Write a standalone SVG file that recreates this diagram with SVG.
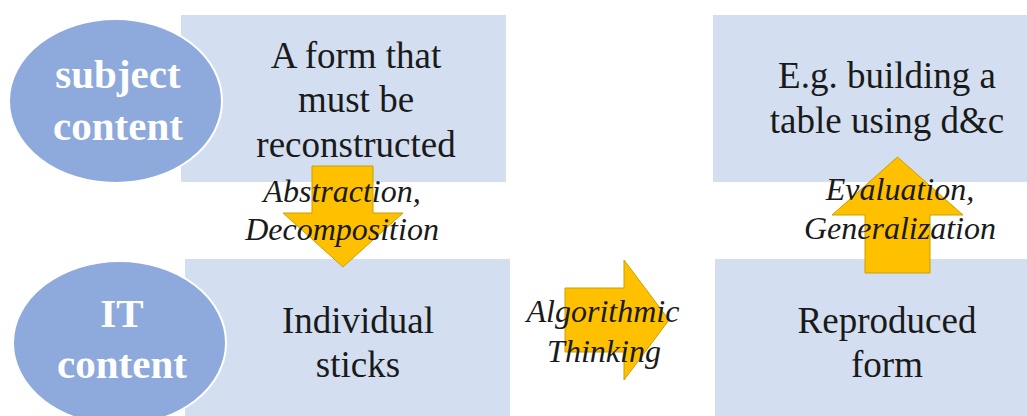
<svg xmlns="http://www.w3.org/2000/svg" width="1027" height="416" viewBox="0 0 1027 416">
<style>
.box{fill:#D3DFF0}
.ell{fill:#8EA9DB;stroke:#FFFFFF;stroke-width:2}
.arr{fill:#FFC000;stroke:#C9A000;stroke-width:1}
.t{font-family:'Liberation Serif','Times New Roman',serif;font-size:37px;fill:#1a1a1a;text-anchor:middle}
.w{font-family:'Liberation Serif','Times New Roman',serif;font-size:41px;font-weight:bold;fill:#FFFFFF;text-anchor:middle}
.l{font-family:'Liberation Serif','Times New Roman',serif;font-size:32px;font-style:italic;fill:#1a1a1a;text-anchor:middle}
</style>
<rect width="1027" height="416" fill="#FFFFFF"/>
<g id="box-form">
<rect class="box" x="181" y="15" width="325" height="167"/>
<text class="t" x="356" y="68">A form that</text>
<text class="t" x="356" y="112">must be</text>
<text class="t" x="356" y="157">reconstructed</text>
</g>
<g id="box-sticks">
<rect class="box" x="185" y="259" width="325" height="170"/>
<text class="t" x="358" y="333">Individual</text>
<text class="t" x="358" y="377">sticks</text>
</g>
<g id="box-example">
<rect class="box" x="713" y="15" width="320" height="167"/>
<text class="t" x="887" y="88">E.g. building a</text>
<text class="t" x="887" y="133">table using d&amp;c</text>
</g>
<g id="box-reproduced">
<rect class="box" x="715" y="259" width="320" height="170"/>
<text class="t" x="887" y="333">Reproduced</text>
<text class="t" x="887" y="377">form</text>
</g>
<g id="ell-subject">
<ellipse class="ell" cx="115.5" cy="101" rx="106.5" ry="82"/>
<text class="w" x="118" y="88">subject</text>
<text class="w" x="118" y="140">content</text>
</g>
<g id="ell-it">
<ellipse class="ell" cx="119.5" cy="343" rx="106.5" ry="82"/>
<text class="w" x="122" y="327">IT</text>
<text class="w" x="122" y="378">content</text>
</g>
<g id="connectors">
<g id="arrow-down">
<polygon class="arr" points="312,166 373,166 373,213 403,213 343,267 283,213 312,213"/>
<text class="l" x="342" y="202">Abstraction,</text>
<text class="l" x="342" y="240">Decomposition</text>
</g>
<g id="arrow-right">
<polygon class="arr" points="565,288 624,288 624,260 669,320 624,380 624,352 565,352"/>
<text class="l" x="603" y="322">Algorithmic</text>
<text class="l" x="604" y="362">Thinking</text>
</g>
<g id="arrow-up">
<polygon class="arr" points="865,273 930,273 930,215 963,215 897.5,157 832,215 865,215"/>
<text class="l" x="900" y="200">Evaluation,</text>
<text class="l" x="900" y="239">Generalization</text>
</g>
</g>
</svg>
